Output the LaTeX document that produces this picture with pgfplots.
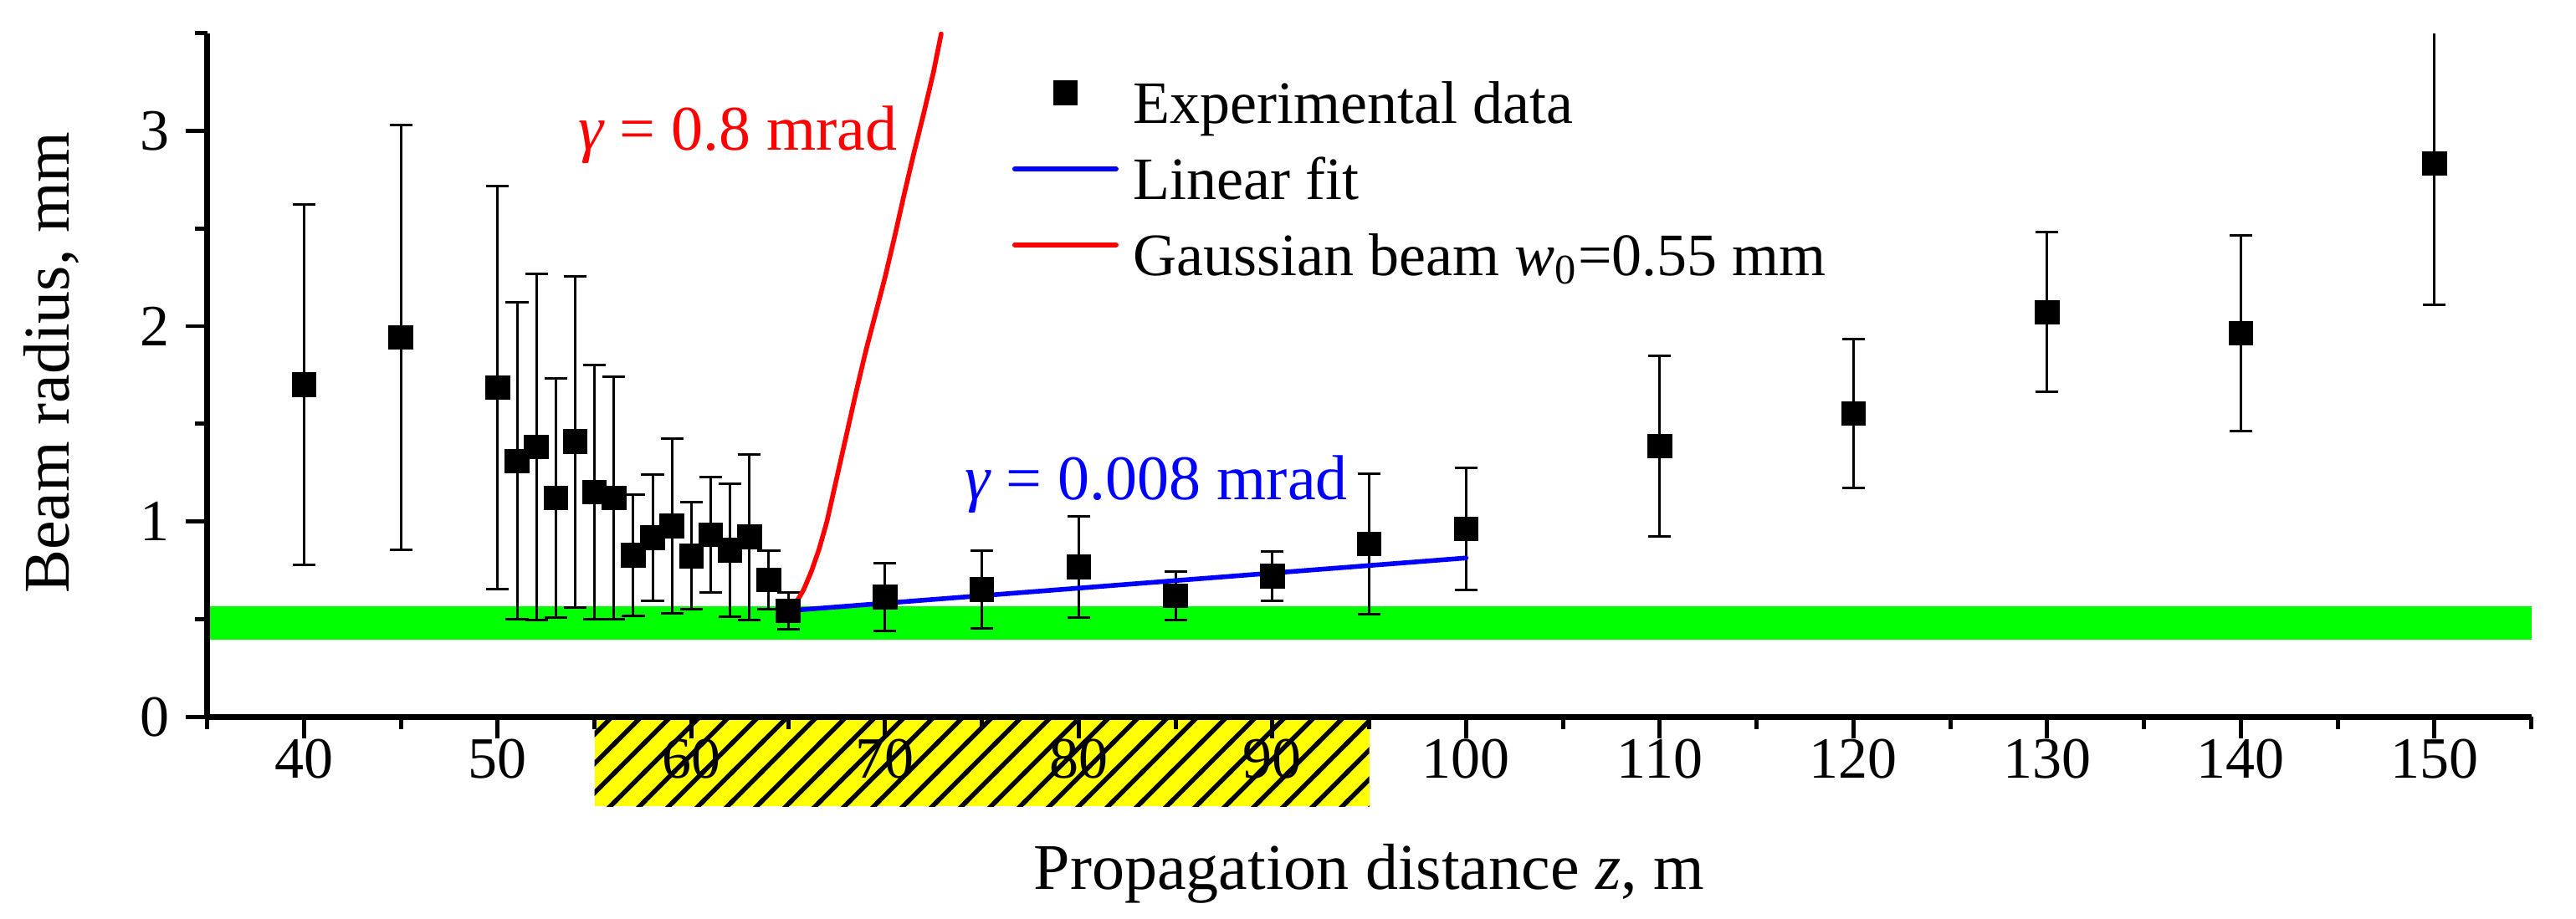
\documentclass[border=0pt]{standalone}
\usepackage{fontspec}
\setmainfont{Liberation Serif}
\usepackage{pgfplots}
\usepackage{pgfplotstable}
\pgfplotsset{compat=1.18}
\usetikzlibrary{patterns}
\pgfdeclarepatternformonly{thickhatch}{\pgfpoint{-1pt}{-1pt}}{\pgfpoint{9.75pt}{9.75pt}}{\pgfpoint{8.75pt}{8.75pt}}{%
  \pgfsetlinewidth{1.35pt}%
  \pgfpathmoveto{\pgfpoint{-1pt}{-1pt}}%
  \pgfpathlineto{\pgfpoint{9.75pt}{9.75pt}}%
  \pgfusepath{stroke}}
\definecolor{bandgreen}{RGB}{0,255,0}
\definecolor{hatchyellow}{RGB}{255,255,0}

\pgfplotsset{
  linelegend/.style={legend image code/.code={\path[draw=none,fill=none] (0pt,0pt) rectangle (30.25pt,9.2pt);
    \draw[##1, line width=1.5pt] (0pt,4.6pt) -- (30.25pt,4.6pt);}},
  marklegend/.style={legend image code/.code={\path[draw=none,fill=none] (0pt,0pt) rectangle (30.25pt,9.2pt);
    \draw[mark repeat=2,mark phase=2,##1] plot coordinates {(0pt,4.6pt) (15.1pt,4.6pt) (30.25pt,4.6pt)};}},
}

\pgfplotstableread{
x y ep em
40 1.699 0.923 0.923
45 1.942 1.087 1.087
50 1.686 1.033 1.033
51 1.309 0.811 0.811
52 1.382 0.885 0.885
53 1.120 0.614 0.614
54 1.408 0.847 0.847
55 1.150 0.651 0.651
56 1.120 0.620 0.620
57 0.826 0.311 0.311
58 0.916 0.324 0.324
59 0.976 0.448 0.448
60 0.823 0.274 0.274
61 0.932 0.297 0.297
62 0.853 0.341 0.341
63 0.920 0.424 0.424
64 0.701 0.150 0.150
65 0.542 0.094 0.094
70 0.612 0.174 0.174
75 0.651 0.199 0.199
80 0.767 0.259 0.259
85 0.620 0.124 0.124
90 0.721 0.127 0.127
95 0.885 0.358 0.358
100 0.962 0.311 0.311
110 1.386 0.462 0.462
120 1.553 0.382 0.382
130 2.071 0.409 0.409
140 1.963 0.500 0.500
150 2.832 0.000 0.724
}\expdata

\begin{document}
\begin{tikzpicture}
\path[use as bounding box] (-61.9pt,-60.4pt) rectangle (707.85pt,214.3pt);
\begin{axis}[
  at={(0,0)}, anchor=south west,
  scale only axis, width=694.5pt, height=204.4pt,
  xmin=35, xmax=155, ymin=0, ymax=3.5,
  axis x line*=bottom, axis y line*=left,
  axis line style={line width=1.7pt},
  clip=false,
  axis on top,
  xtick={40,50,...,150}, minor xtick={35,45,...,155},
  ytick={0,1,2,3}, minor ytick={0.5,1.5,2.5,3.5},
  tick align=outside,
  major tick length=6.5pt, minor tick length=3.7pt,
  every tick/.style={black, line width=1.2pt},
  tick label style={font=\fontsize{17.5}{20}\selectfont, inner sep=0pt},
  /pgf/number format/assume math mode=true,
  xticklabel style={anchor=north, yshift=0pt},
  yticklabel style={anchor=east, xshift=-4.5pt},
  xlabel={Propagation distance \textit{z}, m},
  ylabel={Beam radius, mm},
  every axis x label/.style={at={(axis description cs:0.5,-0.2520)}, anchor=base, font=\fontsize{19.5}{23}\selectfont},
  every axis y label/.style={at={(axis description cs:-0.05932,0.518)}, rotate=90, anchor=base, font=\fontsize{19.5}{23}\selectfont},
  legend style={at={(axis cs:76.57,3.272)}, anchor=north west, draw=none, fill=none,
    inner sep=0pt, outer sep=0pt, row sep=5.0pt, column sep=4.5pt,
    font=\fontsize{18}{22}\selectfont,
    nodes={inner sep=0pt, text height=13pt, text depth=4pt}},
  legend cell align=left,
]
% green band
\addplot[fill=bandgreen, draw=none, forget plot] coordinates {(35,0.396) (155,0.396) (155,0.566) (35,0.566)} -- cycle;
% hatched yellow region below the axis
\addplot[fill=hatchyellow, draw=none, forget plot, postaction={pattern=thickhatch}] coordinates {(55,0) (95,0) (95,-0.459) (55,-0.459)} -- cycle;
% experimental data
\addplot[only marks, mark=square*, mark size=3.5pt, mark options={fill=black, draw=black, line width=0.4pt},
  marklegend,
  error bars/.cd, y dir=both, y explicit,
  error bar style={line width=0.75pt, black},
  error mark options={rotate=90, line width=0.75pt, mark size=3.4pt, black}]
  table[x=x, y=y, y error plus=ep, y error minus=em] {\expdata};
\addlegendentry{Experimental data}
% linear fit
\addplot[blue, line width=1.4pt, line cap=round, linelegend]
  coordinates {(65,0.543) (100,0.813)};
\addlegendentry{Linear fit}
% gaussian beam
\addplot[red, line width=1.4pt, line join=round, line cap=round, linelegend]
  coordinates {(64.9,0.547) (65.2,0.565) (65.5,0.60) (65.8,0.651) (66.2,0.745) (66.6,0.86) (67.0,1.00) (67.5,1.22) (68.0,1.44) (68.5,1.66) (69.0,1.87) (69.5,2.06) (70.0,2.25) (70.5,2.46) (71.0,2.68) (71.5,2.89) (72.0,3.09) (72.5,3.30) (72.9,3.496)};
\addlegendentry{Gaussian beam \textit{w}\textsubscript{0}=0.55 mm}
% upper part of the last error bar, cut at the top of the axis
\addplot[black, line width=0.75pt, forget plot] coordinates {(150,2.832) (150,3.5)};
% annotations
\node[anchor=base east, text=red, inner sep=0pt, font=\fontsize{19}{22}\selectfont] at (axis cs:70.67,2.901) {{\itshape γ} = 0.8 mrad};
\node[anchor=base east, text=blue, inner sep=0pt, font=\fontsize{19}{22}\selectfont] at (axis cs:93.92,1.112) {{\itshape γ} = 0.008 mrad};
\end{axis}
\end{tikzpicture}
\end{document}
